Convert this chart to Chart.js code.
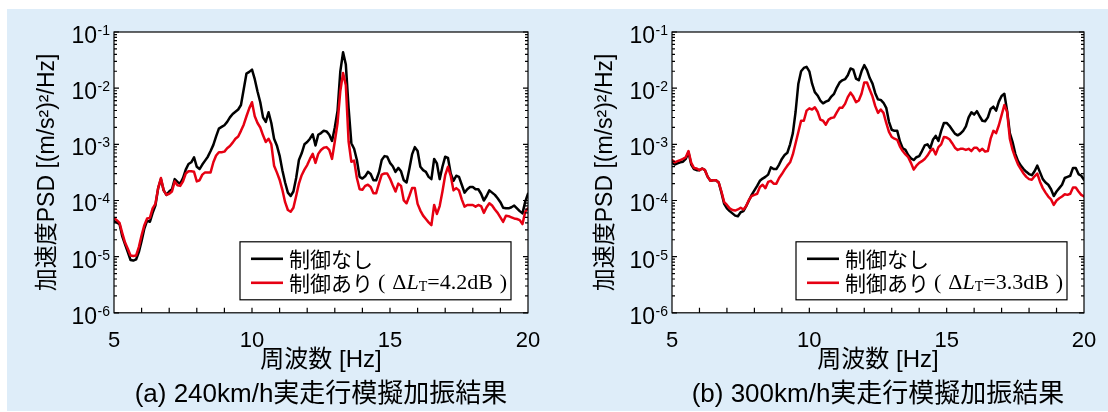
<!DOCTYPE html>
<html lang="ja">
<head>
<meta charset="utf-8">
<script src="https://cdn.jsdelivr.net/npm/chart.js@4.4.1/dist/chart.umd.min.js"></script>
<style>
  html, body { margin: 0; padding: 0; background: #fff; }
  body { width: 1108px; height: 412px; position: relative; overflow: hidden; }
  .panel-bg { position: absolute; left: 7px; top: 9px; width: 1101px; height: 402px; background: #deedf9; }
  canvas { position: absolute; top: 0; }
  #chartA { left: 0; }
  #chartB { left: 558px; }
</style>
</head>
<body>
<div class="panel-bg"></div>
<canvas id="chartA" width="554" height="412"></canvas>
<canvas id="chartB" width="554" height="412"></canvas>
<script>
// frequency axis [Hz]
const freqs = [
  5.0, 5.1, 5.2, 5.3, 5.4, 5.5, 5.6, 5.7, 5.8, 5.9,
  6.0, 6.1, 6.2, 6.3, 6.4, 6.5, 6.6, 6.7, 6.8, 6.9,
  7.0, 7.1, 7.2, 7.3, 7.4, 7.5, 7.6, 7.7, 7.8, 7.9,
  8.0, 8.1, 8.2, 8.3, 8.4, 8.5, 8.6, 8.7, 8.8, 8.9,
  9.0, 9.1, 9.2, 9.3, 9.4, 9.5, 9.6, 9.7, 9.8, 9.9,
  10.0, 10.1, 10.2, 10.3, 10.4, 10.5, 10.6, 10.7, 10.8, 10.9,
  11.0, 11.1, 11.2, 11.3, 11.4, 11.5, 11.6, 11.7, 11.8, 11.9,
  12.0, 12.1, 12.2, 12.3, 12.4, 12.5, 12.6, 12.7, 12.8, 12.9,
  13.0, 13.1, 13.2, 13.3, 13.4, 13.5, 13.6, 13.7, 13.8, 13.9,
  14.0, 14.1, 14.2, 14.3, 14.4, 14.5, 14.6, 14.7, 14.8, 14.9,
  15.0, 15.1, 15.2, 15.3, 15.4, 15.5, 15.6, 15.7, 15.8, 15.9,
  16.0, 16.1, 16.2, 16.3, 16.4, 16.5, 16.6, 16.7, 16.8, 16.9,
  17.0, 17.1, 17.2, 17.3, 17.4, 17.5, 17.6, 17.7, 17.8, 17.9,
  18.0, 18.1, 18.2, 18.3, 18.4, 18.5, 18.6, 18.7, 18.8, 18.9,
  19.0, 19.1, 19.2, 19.3, 19.4, 19.5, 19.6, 19.7, 19.8, 19.9,
  20.0
];

// PSD values as exponents of ten, (a) 240 km/h
const noCtrlA = [
  -4.37, -4.39, -4.42, -4.64, -4.78, -4.92, -5.06, -5.07, -5.05, -4.92,
  -4.72, -4.50, -4.36, -4.38, -4.22, -4.09, -3.78, -3.62, -3.82, -3.90,
  -3.84, -3.80, -3.62, -3.67, -3.70, -3.60, -3.45, -3.35, -3.32, -3.23,
  -3.40, -3.44, -3.36, -3.29, -3.22, -3.12, -3.01, -2.86, -2.72, -2.69,
  -2.66, -2.60, -2.52, -2.46, -2.42, -2.38, -2.30, -2.02, -1.74, -1.71,
  -1.67, -1.84, -2.06, -2.25, -2.52, -2.60, -2.43, -2.62, -2.90, -3.02,
  -3.20, -3.46, -3.68, -3.86, -3.92, -3.84, -3.60, -3.28, -3.16, -3.00,
  -2.96, -2.90, -2.82, -3.02, -2.83, -2.80, -2.76, -2.77, -2.83, -2.94,
  -2.70, -2.40, -1.70, -1.36, -1.58, -2.35, -2.98, -3.08, -3.28, -3.58,
  -3.61, -3.57, -3.49, -3.53, -3.64, -3.64, -3.50, -3.28, -3.21, -3.22,
  -3.33, -3.39, -3.49, -3.42, -3.48, -3.64, -3.68, -3.44, -3.18, -3.05,
  -3.12, -3.40, -3.46, -3.49, -3.58, -3.62, -3.26, -3.34, -3.62, -3.40,
  -3.22, -3.24, -3.52, -3.65, -3.56, -3.58, -3.72, -3.86, -3.80, -3.76,
  -3.76, -3.80, -3.80, -3.88, -4.00, -3.92, -3.82, -3.86, -3.90, -3.96,
  -4.03, -4.13, -4.14, -4.14, -4.12, -4.09, -4.14, -4.19, -4.23, -4.02,
  -3.88
];
const ctrlA = [
  -4.31, -4.35, -4.40, -4.58, -4.75, -4.86, -4.98, -4.99, -4.98, -4.83,
  -4.62, -4.44, -4.32, -4.31, -4.14, -4.06, -3.78, -3.60, -3.82, -3.90,
  -3.88, -3.84, -3.66, -3.73, -3.74, -3.66, -3.52, -3.48, -3.48, -3.49,
  -3.66, -3.64, -3.54, -3.50, -3.50, -3.50, -3.32, -3.20, -3.14, -3.14,
  -3.13, -3.07, -3.03, -2.97, -2.90, -2.86, -2.76, -2.65, -2.50, -2.36,
  -2.25, -2.50, -2.62, -2.70, -2.84, -2.96, -2.90, -3.00, -3.38, -3.50,
  -3.63, -3.81, -4.03, -4.17, -4.20, -4.13, -3.92, -3.70, -3.55, -3.45,
  -3.37, -3.26, -3.17, -3.33, -3.17, -3.10, -3.06, -3.05, -3.10, -3.26,
  -2.95, -2.62, -2.05, -1.73, -1.95, -2.95, -3.31, -3.29, -3.60, -3.80,
  -3.81, -3.74, -3.72, -3.76, -3.87, -3.87, -3.70, -3.54, -3.52, -3.52,
  -3.61, -3.73, -3.84, -3.70, -3.74, -4.00, -4.05, -3.92, -3.78, -3.78,
  -4.06, -4.18, -4.27, -4.33, -4.39, -4.44, -4.08, -4.24, -4.10, -3.84,
  -3.55, -3.40, -3.56, -3.82, -3.78, -3.82, -3.98, -4.11, -4.08, -4.08,
  -4.08, -4.11, -4.08, -4.10, -4.22, -4.12, -4.05, -4.09, -4.16, -4.22,
  -4.30, -4.38, -4.27, -4.28, -4.30, -4.32, -4.33, -4.35, -4.42, -4.20,
  -4.14
];

// (b) 300 km/h
const noCtrlB = [
  -3.33, -3.36, -3.34, -3.32, -3.31, -3.26, -3.14, -3.36, -3.44, -3.46,
  -3.46, -3.43, -3.46, -3.58, -3.65, -3.64, -3.64, -3.68, -3.86, -4.06,
  -4.14, -4.19, -4.23, -4.27, -4.28, -4.21, -4.19, -4.10, -4.00, -3.90,
  -3.82, -3.74, -3.65, -3.61, -3.58, -3.54, -3.41, -3.44, -3.44, -3.36,
  -3.26, -3.19, -3.15, -3.00, -2.80, -2.42, -1.92, -1.70, -1.64, -1.62,
  -1.70, -1.92, -2.07, -2.13, -2.22, -2.27, -2.24, -2.22, -2.15, -2.10,
  -1.99, -1.90, -1.86, -1.84, -1.77, -1.65, -1.67, -1.83, -1.86, -1.70,
  -1.59, -1.68, -1.82, -1.92, -2.09, -2.20, -2.21, -2.26, -2.35, -2.60,
  -2.74, -2.76, -2.76, -2.95, -3.07, -3.10, -3.19, -3.25, -3.28, -3.23,
  -3.21, -3.12, -3.02, -3.00, -3.07, -2.92, -2.85, -2.94, -2.76, -2.62,
  -2.62, -2.67, -2.74, -2.81, -2.84, -2.81, -2.76, -2.68, -2.52, -2.43,
  -2.47, -2.41, -2.50, -2.58, -2.59, -2.52, -2.37, -2.33, -2.40, -2.24,
  -2.14, -2.10, -2.40, -2.80, -2.96, -3.17, -3.30, -3.38, -3.44, -3.49,
  -3.53, -3.55, -3.48, -3.38, -3.50, -3.62, -3.68, -3.72, -3.80, -3.92,
  -3.84, -3.78, -3.72, -3.60, -3.58, -3.56, -3.42, -3.42, -3.53, -3.56,
  -3.63
];
const ctrlB = [
  -3.28, -3.32, -3.30, -3.28, -3.26, -3.23, -3.12, -3.33, -3.42, -3.43,
  -3.46, -3.43, -3.46, -3.58, -3.65, -3.64, -3.64, -3.68, -3.84, -4.03,
  -4.08, -4.14, -4.17, -4.18, -4.16, -4.13, -4.16, -4.10, -3.99, -3.92,
  -3.90, -3.88, -3.76, -3.72, -3.78, -3.67, -3.65, -3.70, -3.70, -3.60,
  -3.53, -3.45, -3.38, -3.32, -3.18, -2.98, -2.78, -2.58, -2.58, -2.40,
  -2.36, -2.38, -2.34, -2.42, -2.56, -2.58, -2.65, -2.56, -2.53, -2.52,
  -2.43, -2.35, -2.35, -2.28, -2.16, -2.08, -2.15, -2.25, -2.22, -2.10,
  -1.90, -1.90, -2.03, -2.15, -2.32, -2.44, -2.38, -2.44, -2.62, -2.78,
  -2.87, -2.90, -2.92, -3.04, -3.12, -3.18, -3.23, -3.33, -3.45, -3.38,
  -3.33, -3.30, -3.26, -3.20, -3.12, -3.08, -3.18, -3.05, -3.00, -2.87,
  -2.88, -2.91, -2.98, -3.06, -3.10, -3.08, -3.08, -3.10, -3.08, -3.12,
  -3.06, -3.06, -3.12, -3.08, -3.13, -3.12, -2.90, -2.76, -2.80, -2.66,
  -2.48, -2.30, -2.42, -2.90, -3.10, -3.24, -3.36, -3.44, -3.52, -3.58,
  -3.62, -3.63, -3.57, -3.52, -3.67, -3.78, -3.86, -3.93, -3.98, -4.08,
  -4.00, -3.96, -3.93, -3.89, -3.90, -3.88, -3.77, -3.77, -3.84, -3.90,
  -3.93
];

const legendLabels = ['制御なし', '制御あり'];
const xTickMarks = [6, 7, 8, 9, 10, 11, 12, 13, 14, 15, 16, 17, 18, 19];
const yDecades = [-6, -5, -4, -3, -2, -1];

const SANS = '"Liberation Sans", "Noto Sans CJK JP", Arial, sans-serif';
const CJK = '"Noto Sans CJK JP", "Liberation Sans", sans-serif';
const SERIF = '"Liberation Serif", "Times New Roman", serif';

Chart.defaults.font.family = SANS;
Chart.defaults.color = '#000';

// frame, inward ticks, 10^n labels and the boxed legend
const axisDecor = {
  id: 'axisDecor',
  beforeDatasetsDraw(chart) {
    const { ctx, chartArea: a } = chart;
    ctx.save();
    ctx.fillStyle = '#fff';
    ctx.fillRect(a.left, a.top, a.right - a.left, a.bottom - a.top);
    ctx.restore();
  },
  afterDatasetsDraw(chart, args, opts) {
    const { ctx, chartArea: a, scales: { x, y } } = chart;
    ctx.save();
    ctx.strokeStyle = '#000';
    ctx.lineWidth = 1.2;
    ctx.strokeRect(a.left, a.top, a.right - a.left, a.bottom - a.top);

    ctx.beginPath();
    xTickMarks.forEach(f => {
      const px = x.getPixelForValue(f);
      ctx.moveTo(px, a.bottom);
      ctx.lineTo(px, a.bottom - 5);
    });
    yDecades.forEach(e => {
      for (let m = 1; m <= 9; m++) {
        if (e === -1 && m > 1) break;
        const py = y.getPixelForValue(m * Math.pow(10, e));
        const len = m === 1 ? 5 : 3;
        ctx.moveTo(a.left, py); ctx.lineTo(a.left + len, py);
        ctx.moveTo(a.right, py); ctx.lineTo(a.right - len, py);
      }
    });
    ctx.stroke();

    // y tick labels 10^n
    ctx.fillStyle = '#000';
    ctx.textAlign = 'right';
    ctx.textBaseline = 'alphabetic';
    yDecades.forEach(e => {
      const py = y.getPixelForValue(Math.pow(10, e));
      const sup = String(e);
      const right = a.left - 4;
      ctx.font = '14px ' + SANS;
      const supW = ctx.measureText(sup).width;
      ctx.fillText(sup, right, py + 3);
      ctx.font = '23px ' + SANS;
      ctx.fillText('10', right - supW - 0.5, py + 11);
    });

    // legend
    const bw = 271, bh = 58;
    const bx = a.right - 17 - bw, by = a.bottom - 13 - bh;
    ctx.fillStyle = '#fff';
    ctx.fillRect(bx, by, bw, bh);
    ctx.lineWidth = 1.2;
    ctx.strokeRect(bx, by, bw, bh);
    const rows = [by + 17, by + 41];
    chart.data.datasets.forEach((ds, i) => {
      const ry = rows[i];
      ctx.strokeStyle = ds.borderColor;
      ctx.lineWidth = 2.6;
      ctx.beginPath();
      ctx.moveTo(bx + 11, ry);
      ctx.lineTo(bx + 43, ry);
      ctx.stroke();
      ctx.fillStyle = '#000';
      ctx.textAlign = 'left';
      ctx.textBaseline = 'middle';
      ctx.font = '21px ' + CJK;
      ctx.fillText(ds.label, bx + 49, ry);
      if (i === 1) {
        let cx = bx + 49 + ctx.measureText(ds.label).width + 5;
        const put = (txt, font, dy, gap) => {
          ctx.font = font;
          ctx.fillText(txt, cx, ry + dy);
          cx += ctx.measureText(txt).width + gap;
        };
        put('(', '22px ' + SERIF, 0, 7);
        put('Δ', '22px ' + SERIF, 0, 0);
        put('L', 'italic 22px ' + SERIF, 0, 0);
        put('T', '14px ' + SERIF, 5, 0);
        put('=' + opts.delta + 'dB', '22px ' + SERIF, 0, 7);
        put(')', '22px ' + SERIF, 0, 0);
      }
    });
    ctx.restore();
  }
};

function buildPanel(canvasId, noCtrl, ctrl, caption, delta, padRight) {
  const toPoints = exps => freqs.map((f, i) => ({ x: f, y: Math.pow(10, exps[i]) }));
  return new Chart(document.getElementById(canvasId), {
    type: 'line',
    data: {
      datasets: [
        { label: legendLabels[0], data: toPoints(noCtrl), borderColor: '#000000', order: 1 },
        { label: legendLabels[1], data: toPoints(ctrl), borderColor: '#e60012', order: 0 }
      ]
    },
    options: {
      responsive: false,
      animation: false,
      devicePixelRatio: 1,
      layout: { padding: { left: 0, right: padRight, top: 32, bottom: 0 } },
      elements: {
        point: { radius: 0 },
        line: { borderWidth: 2.5, tension: 0, borderJoinStyle: 'round', borderCapStyle: 'round' }
      },
      plugins: {
        legend: { display: false },
        tooltip: { enabled: false },
        title: {
          display: true, text: caption, position: 'bottom', fullSize: false,
          font: { size: 26, weight: 'normal' }, color: '#000',
          padding: { top: 4, bottom: 2 }
        },
        axisDecor: { delta: delta }
      },
      scales: {
        x: {
          type: 'linear', min: 5, max: 20,
          grid: { display: false }, border: { display: false },
          ticks: { stepSize: 5, font: { size: 22 }, color: '#000', padding: 7, maxRotation: 0 },
          title: { display: true, text: '周波数 [Hz]', font: { size: 24 }, color: '#000', padding: { top: 0, bottom: 0 } },
          afterFit: s => { s.height = 62; }
        },
        y: {
          type: 'logarithmic', min: 1e-6, max: 1e-1,
          grid: { display: false }, border: { display: false },
          ticks: { display: false },
          title: { display: true, text: '加速度PSD [(m/s²)²/Hz]', font: { size: 23 }, color: '#000', padding: { top: 34, bottom: 0 } },
          afterFit: s => { s.width = 114; }
        }
      }
    },
    plugins: [axisDecor]
  });
}

buildPanel('chartA', noCtrlA, ctrlA, '(a) 240km/h実走行模擬加振結果', '4.2', 26);
buildPanel('chartB', noCtrlB, ctrlB, '(b) 300km/h実走行模擬加振結果', '3.3', 28);
</script>
</body>
</html>
